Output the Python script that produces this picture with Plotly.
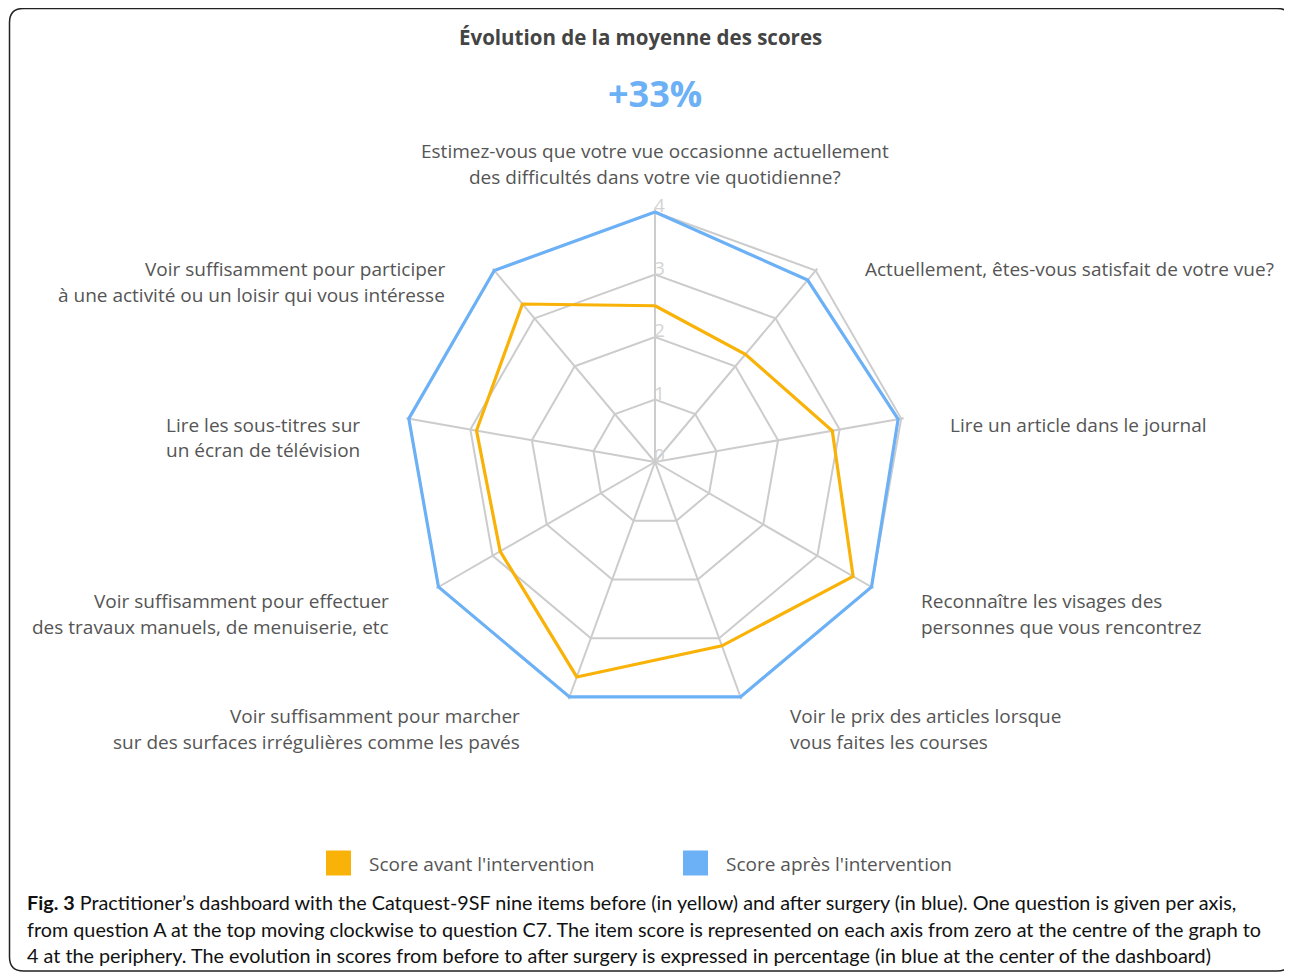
import math
import plotly.graph_objects as go

# browser adds an 8px body margin: draw in page pixels, shift into figure space
OFF = 8
W, H = 1292 - OFF, 975 - OFF

categories = [
    "Estimez-vous que votre vue occasionne actuellement<br>des difficultés dans votre vie quotidienne?",
    "Actuellement, êtes-vous satisfait de votre vue?",
    "Lire un article dans le journal",
    "Reconnaître les visages des<br>personnes que vous rencontrez",
    "Voir le prix des articles lorsque<br>vous faites les courses",
    "Voir suffisamment pour marcher<br>sur des surfaces irrégulières comme les pavés",
    "Voir suffisamment pour effectuer<br>des travaux manuels, de menuiserie, etc",
    "Lire les sous-titres sur<br>un écran de télévision",
    "Voir suffisamment pour participer<br>à une activité ou un loisir qui vous intéresse",
]
score_before = [2.5, 2.25, 2.88, 3.66, 3.13, 3.66, 2.86, 2.9, 3.3]
score_after = [4.0, 3.8, 3.95, 4.0, 4.0, 4.0, 4.0, 4.0, 4.0]
series_names = ["Score avant l'intervention", "Score après l'intervention"]
radial_ticks = [0, 1, 2, 3, 4]
title_text = "Évolution de la moyenne des scores"
evolution_text = "+33%"
caption_lines = [
    "<b>Fig. 3</b> Practitioner’s dashboard with the Catquest-9SF nine items before (in yellow) and after surgery (in blue). One question is given per axis,",
    "from question A at the top moving clockwise to question C7. The item score is represented on each axis from zero at the centre of the graph to",
    "4 at the periphery. The evolution in scores from before to after surgery is expressed in percentage (in blue at the center of the dashboard)",
]

YELLOW = "#F9B208"
BLUE = "#6CB0F5"
GRID = "#CCCCCC"
LABEL = "#555555"
FONT = "Open Sans"

# polar geometry (page pixels): R is the pixel radius of score 4
CX, CY, R = 655, 462, 250
RMAX = 4
RPAD = 4.04  # small headroom so lines at the maximum are not clipped
RD = R * RPAD / RMAX


def px(x):
    return (x - OFF) / W


def py(y):
    return 1 - (y - OFF) / H


fig = go.Figure()
for vals, col, name in [(score_before, YELLOW, series_names[0]), (score_after, BLUE, series_names[1])]:
    fig.add_trace(go.Scatterpolar(
        r=vals + vals[:1], theta=categories + categories[:1], mode="lines",
        line=dict(color=col, width=3.2), name=name, showlegend=False,
        cliponaxis=False, hoverinfo="r+theta",
    ))

annotations = []
# axis labels
n = len(categories)
for i, cat in enumerate(categories):
    th = math.radians(360 / n * i)
    vx = CX + R * math.sin(th)
    vy = CY - R * math.cos(th)
    lines = cat.split("<br>")
    if i == 0:
        xa = "center"
        x = vx
        y0 = vy - 35 - 25.5 * (len(lines) - 1)
    else:
        if math.sin(th) > 0:
            xa = "left"
            x = vx + 47
        else:
            xa = "right"
            x = vx - 47
        y0 = vy + 8 - 12 * math.cos(th)
    for k, ln in enumerate(lines):
        annotations.append(dict(
            x=px(x), y=py(y0 + 25.5 * k), xref="paper", yref="paper",
            text=ln, showarrow=False, xanchor=xa, yanchor="middle",
            font=dict(family=FONT, size=19, color=LABEL),
        ))

# radial tick labels along the top axis
for v in radial_ticks:
    annotations.append(dict(
        x=px(CX + 5), y=py(CY - R * v / RMAX - 7), xref="paper", yref="paper",
        text=str(v), showarrow=False, xanchor="center", yanchor="middle",
        font=dict(family=FONT, size=19, color="#D3D3D3"),
    ))

# title and evolution
annotations.append(dict(x=px(640), y=py(37), xref="paper", yref="paper", text="<b>" + title_text + "</b>",
                        showarrow=False, xanchor="center", yanchor="middle",
                        font=dict(family=FONT, size=20.5, color="#444444")))
annotations.append(dict(x=px(655), y=py(93), xref="paper", yref="paper", text="<b>" + evolution_text + "</b>",
                        showarrow=False, xanchor="center", yanchor="middle",
                        font=dict(family=FONT, size=36, color=BLUE)))

# legend
shapes = []
legend_pos = [(326, 863), (683, 863)]
for (lx, ly), col, name in zip(legend_pos, [YELLOW, BLUE], series_names):
    shapes.append(dict(type="rect", xref="paper", yref="paper",
                       x0=px(lx), x1=px(lx + 25), y0=py(ly - 12.5), y1=py(ly + 12.5),
                       fillcolor=col, line=dict(width=0)))
    annotations.append(dict(x=px(lx + 41), y=py(ly + 1), xref="paper", yref="paper", text=name,
                            showarrow=False, xanchor="left", yanchor="middle",
                            font=dict(family=FONT, size=19, color=LABEL)))

# caption
for k, ln in enumerate(caption_lines):
    annotations.append(dict(x=px(25), y=py(902 + 26.5 * k), xref="paper", yref="paper", text=ln,
                            showarrow=False, xanchor="left", yanchor="middle",
                            font=dict(family="Lato", size=19.8, color="#111111")))

# rounded border
x0b, y0b, x1b, y1b, rr = 9.5, 8.5, 1291, 971, 14
path = (
    f"M {px(x0b + rr)} {py(y0b)} L {px(x1b - rr)} {py(y0b)} "
    f"Q {px(x1b)} {py(y0b)} {px(x1b)} {py(y0b + rr)} "
    f"L {px(x1b)} {py(y1b - rr)} Q {px(x1b)} {py(y1b)} {px(x1b - rr)} {py(y1b)} "
    f"L {px(x0b + rr)} {py(y1b)} Q {px(x0b)} {py(y1b)} {px(x0b)} {py(y1b - rr)} "
    f"L {px(x0b)} {py(y0b + rr)} Q {px(x0b)} {py(y0b)} {px(x0b + rr)} {py(y0b)} Z"
)
shapes.append(dict(type="path", xref="paper", yref="paper", path=path,
                   line=dict(color="#222222", width=1.5), fillcolor="rgba(0,0,0,0)"))

fig.update_layout(
    width=W, height=H,
    margin=dict(l=0, r=0, t=0, b=0),
    paper_bgcolor="white",
    font=dict(family=FONT),
    showlegend=False,
    annotations=annotations,
    shapes=shapes,
    polar=dict(
        domain=dict(x=[px(CX - RD), px(CX + RD)], y=[py(CY + RD), py(CY - RD)]),
        bgcolor="white",
        gridshape="linear",
        angularaxis=dict(direction="clockwise", rotation=90, showticklabels=False, ticks="",
                         gridcolor=GRID, gridwidth=2, showline=False,
                         layer="below traces"),
        radialaxis=dict(range=[0, RPAD], tickvals=radial_ticks, angle=90, showticklabels=False,
                        showline=True, linecolor=GRID, linewidth=2, ticks="",
                        gridcolor=GRID, gridwidth=2, layer="below traces"),
    ),
)

fig.write_html("out.html")
